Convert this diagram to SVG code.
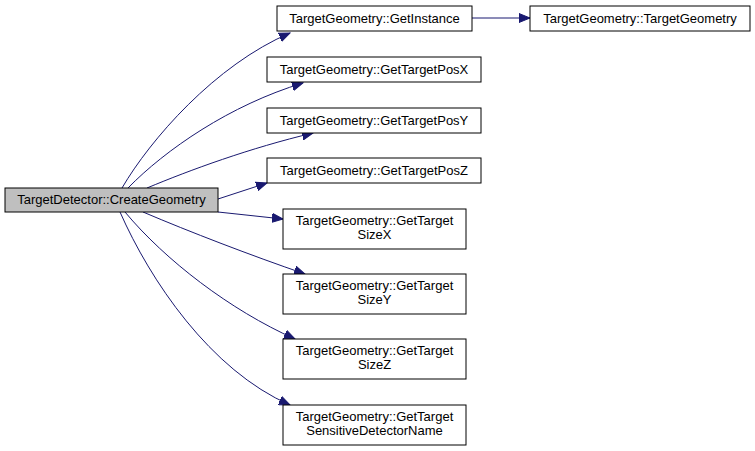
<svg xmlns="http://www.w3.org/2000/svg" width="755" height="451" viewBox="0 0 755 451">
<style>
.n rect{fill:#fff;stroke:#000;stroke-width:1}
.n text{font-family:"Liberation Sans",Arial,sans-serif;font-size:13px;fill:#000;text-anchor:middle}
#main rect{fill:#bfbfbf}
.e path{fill:none;stroke:#191970;stroke-width:1}
</style>
<defs>
<marker id="ah" markerUnits="userSpaceOnUse" markerWidth="12" markerHeight="10" refX="11" refY="5" orient="auto">
<path d="M0,0.5 L11,5 L0,9.5 Z" fill="#191970" stroke="#191970"/>
</marker>
</defs>
<rect width="755" height="451" fill="#fff"/>
<g class="e">
<path d="M122,188 C150,140 215,65 290,33" marker-end="url(#ah)"/>
<path d="M128,188 C165,150 230,105 303,83" marker-end="url(#ah)"/>
<path d="M147,188 C190,170 250,148 313,133" marker-end="url(#ah)"/>
<path d="M218,199 L267,183" marker-end="url(#ah)"/>
<path d="M218,212 L283,219" marker-end="url(#ah)"/>
<path d="M143,212 C190,232 250,255 305,274" marker-end="url(#ah)"/>
<path d="M125,212 C165,260 230,310 295,339" marker-end="url(#ah)"/>
<path d="M120,212 C150,280 210,370 290,405" marker-end="url(#ah)"/>
<path d="M472,18 L530,18" marker-end="url(#ah)"/>
</g>
<g id="main" class="n"><rect x="5" y="188" width="213" height="24"/><text x="111.5" y="204">TargetDetector::CreateGeometry</text></g>
<g id="getinstance" class="n"><rect x="277" y="6" width="195" height="25"/><text x="374.5" y="23">TargetGeometry::GetInstance</text></g>
<g id="ctor" class="n"><rect x="530" y="6" width="220" height="25"/><text x="640" y="23">TargetGeometry::TargetGeometry</text></g>
<g id="posx" class="n"><rect x="267" y="57" width="214" height="25"/><text x="374" y="74">TargetGeometry::GetTargetPosX</text></g>
<g id="posy" class="n"><rect x="267" y="108" width="214" height="25"/><text x="374" y="125">TargetGeometry::GetTargetPosY</text></g>
<g id="posz" class="n"><rect x="267" y="158" width="214" height="25"/><text x="374" y="175">TargetGeometry::GetTargetPosZ</text></g>
<g id="sizex" class="n"><rect x="283" y="209" width="183" height="40"/><text x="374.5" y="225">TargetGeometry::GetTarget</text><text x="374.5" y="239">SizeX</text></g>
<g id="sizey" class="n"><rect x="283" y="274" width="183" height="40"/><text x="374.5" y="290">TargetGeometry::GetTarget</text><text x="374.5" y="304">SizeY</text></g>
<g id="sizez" class="n"><rect x="283" y="339" width="183" height="40"/><text x="374.5" y="355">TargetGeometry::GetTarget</text><text x="374.5" y="369">SizeZ</text></g>
<g id="sensdet" class="n"><rect x="283" y="405" width="183" height="40"/><text x="374.5" y="421">TargetGeometry::GetTarget</text><text x="374.5" y="435">SensitiveDetectorName</text></g>
</svg>
